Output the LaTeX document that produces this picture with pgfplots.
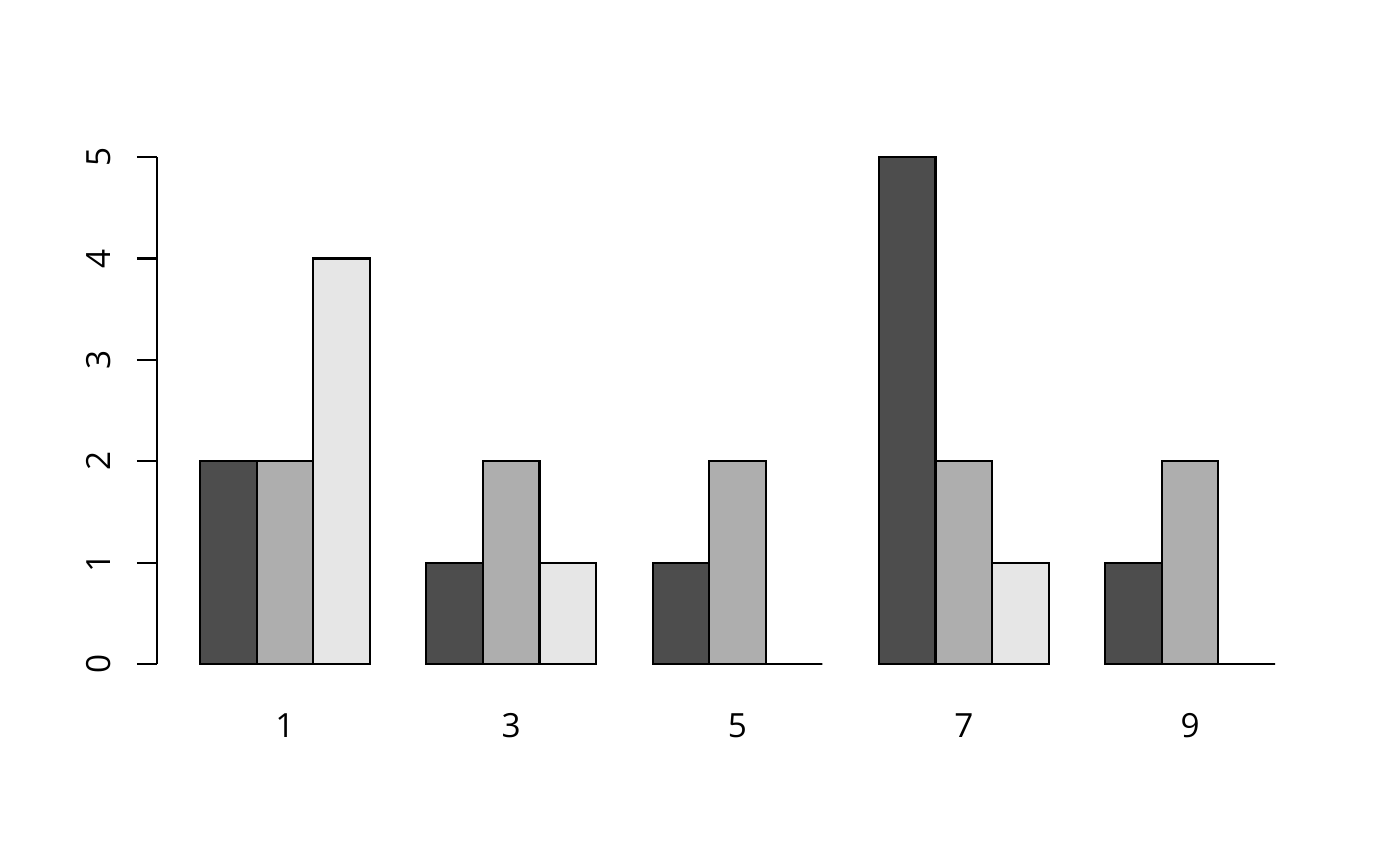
\documentclass[border=0pt]{standalone}
\usepackage{fontspec}
\setmainfont{Open Sans}
\usepackage{pgfplots}
\pgfplotsset{compat=1.18}
\definecolor{gA}{HTML}{4D4D4D}
\definecolor{gB}{HTML}{AEAEAE}
\definecolor{gC}{HTML}{E6E6E6}
\begin{document}
\begin{tikzpicture}
\useasboundingbox (0,0) rectangle (504pt,311.76pt);
\begin{axis}[
  at={(56.52pt,63.5pt)}, anchor=south west,
  scale only axis, width=417.96pt, height=199.1pt,
  xmin=0.24, xmax=20.76, ymin=-0.2525, ymax=5.2025,
  axis x line*=bottom, axis y line*=left,
  axis line style={draw=none},
  xtick={2.5,6.5,10.5,14.5,18.5},
  xticklabels={1,3,5,7,9},
  ytick={0,1,2,3,4,5},
  tick align=outside,
  x tick style={draw=none},
  xtick style={draw=none},
  major tick length=7.2pt,
  y tick style={black, line width=0.75pt},
  /pgf/number format/assume math mode=true,
  tick label style={font=\fontsize{12}{14.4}\selectfont},
  xticklabel style={anchor=base, inner sep=0pt, yshift=-10.2pt},
  yticklabel style={xshift=-9.4pt, rotate=90, anchor=base, inner sep=0pt},
  clip=false,
]
\addplot[ybar, bar width=1, bar shift=0, fill=gA, draw=black, line width=0.75pt]
  coordinates {(1.5,2) (5.5,1) (9.5,1) (13.5,5) (17.5,1)};
\addplot[ybar, bar width=1, bar shift=0, fill=gB, draw=black, line width=0.75pt]
  coordinates {(2.5,2) (6.5,2) (10.5,2) (14.5,2) (18.5,2)};
\addplot[ybar, bar width=1, bar shift=0, fill=gC, draw=black, line width=0.75pt]
  coordinates {(3.5,4) (7.5,1) (11.5,0) (15.5,1) (19.5,0)};
\draw[line width=0.75pt] (axis cs:0.24,0) -- (axis cs:0.24,5);
\end{axis}
\end{tikzpicture}
\end{document}
